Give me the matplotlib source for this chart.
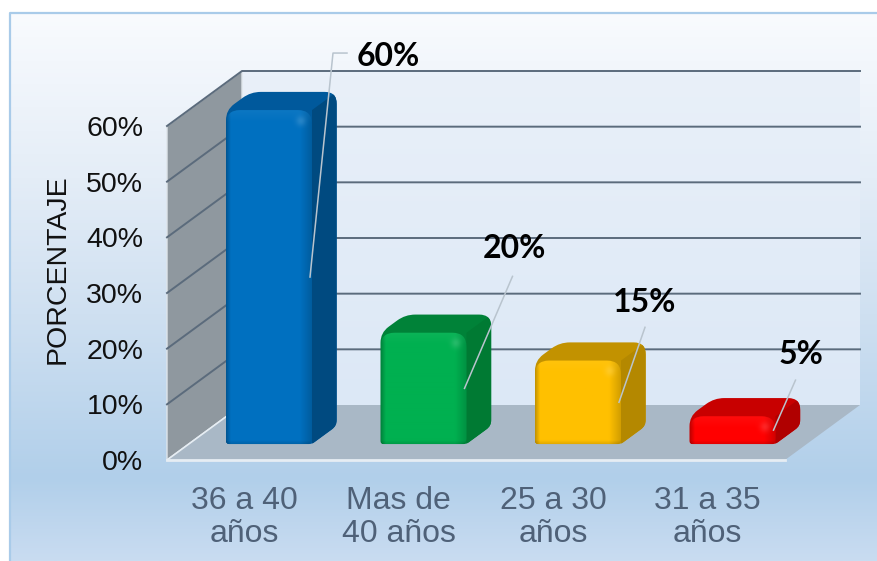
# -*- coding: utf-8 -*-
import numpy as np
import matplotlib
matplotlib.use('Agg')
import matplotlib.pyplot as plt
from matplotlib.path import Path
from matplotlib.patches import PathPatch, Polygon
from matplotlib.colors import LinearSegmentedColormap, to_rgb

plt.rcParams['font.family'] = ['Liberation Sans', 'DejaVu Sans']

#%% data
categories = ['36 a 40\naños', 'Mas de\n40 años', '25 a 30\naños', '31 a 35\naños']
values = [60, 20, 15, 5]
y_ticks = [0, 10, 20, 30, 40, 50, 60]
front_colors = ['#0070c0', '#00b050', '#ffc000', '#ff0000']
top_colors = ['#00599c', '#008238', '#c29200', '#c80000']
side_colors = ['#004a80', '#007a33', '#b48800', '#b00000']
# leader line end and label centre, pixels away from the middle of the bar
leader_off = [(23, 224), (48, 112), (26, 75), (22, 50)]
label_off = [(78, 221), (50, 140), (26, 100), (27, 76)]

#%% layout in pixels
W, H = 877, 561
LEFT, RIGHT, BOTTOM, TOP = 167, 785, 460, 126
X_UNIT = (RIGHT - LEFT) / 4.0
Y_UNIT = (BOTTOM - TOP) / 60.0
DEPTH_PX = (75, 55)
BAR_WIDTH_PX = 86
BAR_SHIFT_PX = 3
BAR_FRONT = 0.29   # bar front as part of the floor depth
BAR_BACK = 0.62


def dx(px):
    return px / X_UNIT


def dy(px):
    return px / Y_UNIT


def rounded_path(points, radii):
    # points in data units, radii in pixels, closed outline with curved corners
    pts = np.array([(p[0] * X_UNIT, p[1] * Y_UNIT) for p in points])
    verts = []
    codes = []
    n = len(pts)
    for i in range(n):
        prev_pt, cur, next_pt = pts[i - 1], pts[i], pts[(i + 1) % n]
        a = (prev_pt - cur) / np.linalg.norm(prev_pt - cur)
        b = (next_pt - cur) / np.linalg.norm(next_pt - cur)
        start = cur + a * radii[i]
        end = cur + b * radii[i]
        verts.append(start)
        codes.append(Path.MOVETO if i == 0 else Path.LINETO)
        verts.append(cur)
        codes.append(Path.CURVE3)
        verts.append(end)
        codes.append(Path.CURVE3)
    verts.append(verts[0])
    codes.append(Path.CLOSEPOLY)
    verts = np.array(verts) / np.array([X_UNIT, Y_UNIT])
    return Path(verts, codes)


def front_shading(color, w, h):
    # soft bevel on the front of a bar, brighter in the top corner
    base = np.array(to_rgb(color))
    xx, yy = np.meshgrid(np.arange(w) + 0.5, np.arange(h) + 0.5)
    shade = np.ones((h, w))
    shade -= 0.25 * np.clip(1 - xx / 5.0, 0, 1)
    shade -= 0.18 * np.clip(1 - (w - xx) / 12.0, 0, 1)
    shade -= 0.12 * np.clip(1 - (h - yy) / 4.0, 0, 1)
    img = base * shade[..., None]
    glow = 0.12 * np.clip(1 - yy / 12.0, 0, 1)
    spot = 0.35 * np.exp(-(((xx - (w - 11)) / 5.0) ** 2 + ((yy - 11) / 5.0) ** 2))
    light = np.clip(glow + spot, 0, 1)[..., None]
    return np.clip(img * (1 - light) + light * (base * 0.6 + 0.4), 0, 1)


#%% figure and background
fig = plt.figure(figsize=(W / 100, H / 100), dpi=100)

bg = fig.add_axes([0, 0, 1, 1], zorder=0)
bg.set_xlim(0, W)
bg.set_ylim(H, 0)
bg.axis('off')
bg_cmap = LinearSegmentedColormap.from_list('bg', [
    (0.0, '#f9fbfe'), (0.3, '#e4edf7'), (0.55, '#cfe0f1'),
    (0.85, '#b1cfea'), (1.0, '#c9dcf1')])
bg.imshow(np.linspace(0, 1, 256)[:, None], cmap=bg_cmap, extent=(10, W, H, 13), aspect='auto')
bg.plot([10, 10, W], [H, 13, 13], color='#a9cbe9', lw=1.6)
bg.set_xlim(0, W)
bg.set_ylim(H, 0)

ax = fig.add_axes([LEFT / W, 1 - BOTTOM / H, (RIGHT - LEFT) / W, (BOTTOM - TOP) / H], zorder=1)
ax.patch.set_visible(False)
xmin, xmax = -0.5, 3.5
ymin, ymax = 0, 60
depth_x, depth_y = dx(DEPTH_PX[0]), dy(DEPTH_PX[1])

#%% back wall, left wall and floor
wall_cmap = LinearSegmentedColormap.from_list('wall', ['#e9f0f9', '#dce8f6'])
wall = ax.imshow(np.linspace(0, 1, 64)[:, None], cmap=wall_cmap, aspect='auto', zorder=1,
                 extent=(xmin + depth_x, xmax + depth_x, ymin + depth_y, ymax + depth_y))
wall.set_clip_on(False)
ax.add_patch(Polygon([(xmin, ymin), (xmin + depth_x, ymin + depth_y),
                      (xmin + depth_x, ymax + depth_y), (xmin, ymax)],
                     closed=True, fc='#8f989f', ec='#dfe5ea', lw=1, zorder=2, clip_on=False))
ax.add_patch(Polygon([(xmin, ymin), (xmax, ymin), (xmax + depth_x, ymin + depth_y),
                      (xmin + depth_x, ymin + depth_y)],
                     closed=True, fc='#a9b8c6', ec='none', zorder=2, clip_on=False))
ax.plot([xmin, xmax], [ymin, ymin], color='#e6edf3', lw=2, zorder=3, clip_on=False)
ax.plot([xmin, xmin + depth_x], [ymin, ymin + depth_y], color='#e6edf3', lw=1.2, zorder=3, clip_on=False)

for t in y_ticks[1:]:
    ax.plot([xmin, xmin + depth_x, xmax + depth_x], [t, t + depth_y, t + depth_y],
            color='#5b6b7c', lw=1.4, zorder=3, clip_on=False)

#%% bars
half = dx(BAR_WIDTH_PX) / 2
for i, val in enumerate(values):
    x0 = i - half + BAR_FRONT * depth_x + dx(BAR_SHIFT_PX)
    x1 = i + half + BAR_FRONT * depth_x + dx(BAR_SHIFT_PX)
    y0 = BAR_FRONT * depth_y
    y1 = y0 + val
    off_x = (BAR_BACK - BAR_FRONT) * depth_x
    off_y = (BAR_BACK - BAR_FRONT) * depth_y

    hex_path = rounded_path([(x0, y0), (x1, y0), (x1 + off_x, y0 + off_y), (x1 + off_x, y1 + off_y),
                             (x0 + off_x, y1 + off_y), (x0, y1)], [3, 3, 6, 12, 10, 10])
    body = PathPatch(hex_path, fc=top_colors[i], ec='none', zorder=5, clip_on=False)
    ax.add_patch(body)
    side = Polygon([(x1, y0), (x1 + off_x, y0 + off_y), (x1 + off_x, y1 + off_y), (x1, y1)],
                   closed=True, fc=side_colors[i], ec='none', zorder=6)
    ax.add_patch(side)
    side.set_clip_path(body)
    side.set_clip_box(fig.bbox)

    front_path = rounded_path([(x0, y0), (x1, y0), (x1, y1), (x0, y1)], [3, 6, 14, 14])
    front = PathPatch(front_path, fc='none', ec='none', zorder=7, clip_on=False)
    ax.add_patch(front)
    w_px = BAR_WIDTH_PX
    h_px = int(round(val * Y_UNIT))
    im = ax.imshow(front_shading(front_colors[i], w_px, h_px), extent=(x0, x1, y0, y1),
                   aspect='auto', zorder=7, interpolation='bilinear')
    im.set_clip_path(front)
    im.set_clip_box(fig.bbox)

    # leader line and value label
    mid_x = x1 - dx(2)
    mid_y = y0 + val / 2.0
    end_x = mid_x + dx(leader_off[i][0])
    end_y = mid_y + dy(leader_off[i][1])
    line_x = [mid_x, end_x]
    line_y = [mid_y, end_y]
    if i == 0:
        line_x.append(end_x + dx(14))
        line_y.append(end_y)
    ax.plot(line_x, line_y, color='#b9c4ce', lw=1.1, zorder=8, clip_on=False)
    ax.text(mid_x + dx(label_off[i][0]), mid_y + dy(label_off[i][1]), '%d%%' % val,
            family='Lato', fontweight='bold', fontsize=23, ha='center', va='center',
            color='black', zorder=9, clip_on=False)

#%% axes, ticks and labels
ax.set_xlim(xmin, xmax)
ax.set_ylim(ymin, ymax)
ax.set_xticks(range(len(categories)))
ax.set_xticklabels(categories, fontsize=23, color='#4f6178', linespacing=1.13)
ax.set_yticks(y_ticks)
ax.set_yticklabels(['%d%%' % t for t in y_ticks], fontsize=20.5, color='#111111')
ax.tick_params(axis='x', length=0, pad=19)
ax.tick_params(axis='y', length=0, pad=17)
for s in ax.spines.values():
    s.set_visible(False)
ax.set_ylabel('PORCENTAJE', fontsize=20.5, color='#111111', labelpad=11, y=0.57)

fig.savefig('out.png', dpi=100)
